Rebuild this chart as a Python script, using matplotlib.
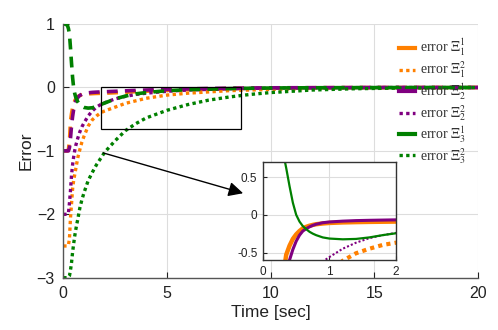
import matplotlib
matplotlib.use("Agg")
import matplotlib.pyplot as plt
from matplotlib.patches import Rectangle

plt.rcParams['font.family'] = ['Liberation Sans', 'DejaVu Sans']
plt.rcParams['mathtext.fontset'] = 'stix'

# time samples (s) and errors
t = [0, 0.1, 0.2, 0.25, 0.3, 0.35, 0.4, 0.45, 0.5, 0.55, 0.6, 0.65, 0.7, 0.75,
     0.8, 0.9, 1.0, 1.2, 1.4, 1.6, 1.8, 2.0, 2.5, 3, 3.5, 4, 5, 6, 7, 8, 9,
     10, 12, 14, 16, 18, 20]

e11 = [-1.0, -1.0, -1.0, -0.98, -0.84, -0.53, -0.41, -0.32, -0.26, -0.215,
       -0.18, -0.16, -0.145, -0.134, -0.125, -0.115, -0.108, -0.101, -0.097,
       -0.094, -0.092, -0.09, -0.083, -0.075, -0.066, -0.058, -0.045, -0.033,
       -0.024, -0.017, -0.012, -0.008, -0.004, -0.002, -0.001, 0.0, 0.0]
e12 = [-2.5, -2.5, -2.5, -2.49, -2.38, -2.05, -1.83, -1.6, -1.47, -1.38,
       -1.29, -1.2, -1.11, -1.04, -0.98, -0.86, -0.77, -0.61, -0.51, -0.45,
       -0.40, -0.37, -0.31, -0.25, -0.21, -0.17, -0.12, -0.09, -0.07, -0.05,
       -0.04, -0.03, -0.015, -0.008, -0.004, -0.002, 0.0]
e21 = [-1.0, -1.0, -1.0, -1.0, -0.95, -0.8, -0.6, -0.46, -0.35, -0.27,
       -0.215, -0.185, -0.16, -0.14, -0.125, -0.105, -0.095, -0.084, -0.077,
       -0.073, -0.07, -0.067, -0.06, -0.053, -0.046, -0.04, -0.03, -0.022,
       -0.016, -0.011, -0.008, -0.005, -0.003, -0.001, 0.0, 0.0, 0.0]
e22 = [-2.0, -2.0, -2.0, -1.98, -1.82, -1.62, -1.38, -1.22, -1.1, -1.0,
       -0.92, -0.86, -0.8, -0.75, -0.7, -0.62, -0.56, -0.45, -0.37, -0.31,
       -0.27, -0.24, -0.18, -0.14, -0.11, -0.09, -0.06, -0.04, -0.03, -0.02,
       -0.015, -0.01, -0.005, -0.002, 0.0, 0.0, 0.0]
e31 = [1.0, 1.0, 0.98, 0.93, 0.84, 0.62, 0.38, 0.16, 0.0, -0.09,
       -0.15, -0.19, -0.225, -0.25, -0.27, -0.30, -0.315, -0.325, -0.32,
       -0.30, -0.27, -0.245, -0.18, -0.135, -0.1, -0.08, -0.05, -0.035, -0.025,
       -0.017, -0.012, -0.008, -0.004, -0.002, -0.001, 0.0, 0.0]
e32 = [-3.0, -3.0, -3.0, -2.99, -2.97, -2.88, -2.76, -2.6, -2.47, -2.35,
       -2.25, -2.16, -2.08, -1.99, -1.9, -1.77, -1.66, -1.47, -1.34, -1.22,
       -1.12, -1.02, -0.84, -0.68, -0.57, -0.48, -0.36, -0.27, -0.2, -0.15,
       -0.11, -0.08, -0.04, -0.02, -0.01, -0.005, 0.0]

labels = [r'error $\Xi_1^1$', r'error $\Xi_1^2$', r'error $\Xi_2^1$',
          r'error $\Xi_2^2$', r'error $\Xi_3^1$', r'error $\Xi_3^2$']

orange = '#ff8000'
purple = '#800080'
green = '#008000'
series = [(e11, orange, '1'), (e12, orange, '2'),
          (e21, purple, '1'), (e22, purple, '2'),
          (e31, green, '1'), (e32, green, '2')]

fig = plt.figure(figsize=(4.98, 3.30), dpi=100)
ax = fig.add_axes((0.127, 0.1585, 0.833, 0.7685))

for (y, c, kind), lab in zip(series, labels):
    if kind == '1':
        ax.plot(t, y, color=c, lw=2.6, dashes=(3, 2), dash_capstyle='butt', label=lab)
    else:
        ax.plot(t, y, color=c, lw=2.4, dashes=(1, 1), dash_capstyle='butt', label=lab)

ax.set_xlim(0, 20)
ax.set_ylim(-3, 1)
ax.set_xticks([0, 5, 10, 15, 20])
ax.set_yticks([-3, -2, -1, 0, 1])
ax.grid(True, color='#dddddd', lw=0.8)
ax.set_axisbelow(True)
for s in ['top', 'right']:
    ax.spines[s].set_visible(False)
for s in ['left', 'bottom']:
    ax.spines[s].set_color('#555555')
    ax.spines[s].set_linewidth(1.0)
ax.tick_params(direction='in', length=4, labelsize=11.5, colors='#222222', pad=6)
ax.set_xlabel('Time [sec]', fontsize=12.5, color='#222222', labelpad=3)
ax.set_ylabel('Error', fontsize=12.5, color='#222222', labelpad=2)

# zoom box and arrow
ax.add_patch(Rectangle((1.83, -0.66), 6.73, 0.66, fill=False, ec='black', lw=0.9, zorder=5))
ax.annotate('', xy=(8.8, -1.68), xytext=(1.8, -1.02),
            arrowprops=dict(arrowstyle='-|>', color='black', lw=1.0, mutation_scale=22))

leg = ax.legend(loc='upper left', bbox_to_anchor=(0.78, 0.998), frameon=False,
                prop={'family': 'Liberation Serif', 'size': 10},
                handlelength=1.1, handletextpad=0.4, labelspacing=0.1,
                borderpad=0.4)
for h, (y, c, kind) in zip(leg.legend_handles, series):
    if kind == '1':
        h.set_linestyle('-')
        h.set_linewidth(3)
for txt in leg.get_texts():
    txt.set_color('#333333')

# inset
axi = fig.add_axes((0.528, 0.212, 0.267, 0.297))
inset_style = [(3.2, '-'), (3.0, ':'), (2.2, '-'), (1.5, ':'), (1.6, '-'), (1.5, ':')]
for (y, c, kind), (w, ls) in zip(series, inset_style):
    if ls == '-':
        axi.plot(t, y, color=c, lw=w)
    else:
        axi.plot(t, y, color=c, lw=w, dashes=(1, 1), dash_capstyle='butt')
axi.set_xlim(0, 2)
axi.set_ylim(-0.6, 0.7)
axi.set_xticks([0, 1, 2])
axi.set_yticks([-0.5, 0, 0.5])
axi.set_yticklabels(['-0.5', '0', '0.5'])
axi.grid(True, color='#dddddd', lw=0.8)
axi.set_axisbelow(True)
for s in axi.spines.values():
    s.set_color('#333333')
    s.set_linewidth(1.0)
axi.tick_params(direction='in', length=3, labelsize=8.5, colors='#222222', pad=4)

fig.savefig('out.png', dpi=100)
